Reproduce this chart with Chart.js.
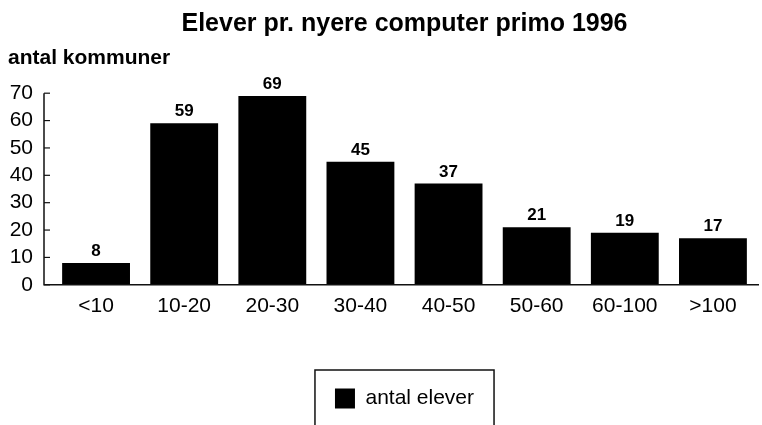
<!DOCTYPE html>
<html>
<head>
<meta charset="utf-8">
<script src="https://cdn.jsdelivr.net/npm/chart.js@4.4.1/dist/chart.umd.min.js"></script>
<style>
  html, body { margin: 0; padding: 0; background: #fff; }
  #wrap { width: 762px; height: 425px; position: relative; }
</style>
</head>
<body>
<div id="wrap"><canvas id="c" width="762" height="425"></canvas></div>
<script>
const categories = ['<10', '10-20', '20-30', '30-40', '40-50', '50-60', '60-100', '>100'];
const antalElever = [8, 59, 69, 45, 37, 21, 19, 17];
const yTicks = [0, 10, 20, 30, 40, 50, 60, 70];
const titleText = 'Elever pr. nyere computer primo 1996';
const yAxisTitle = 'antal kommuner';
const seriesLabel = 'antal elever';

const FONT = "'Liberation Sans', Arial, sans-serif";
const AXIS_GAP = 8;

const axisPlugin = {
  id: 'axisLines',
  afterDatasetsDraw(chart) {
    const ctx = chart.ctx;
    const y = chart.scales.y;
    const ax = chart.chartArea.left - AXIS_GAP;
    ctx.save();
    ctx.strokeStyle = '#111';
    ctx.lineWidth = 1.5;
    ctx.beginPath();
    ctx.moveTo(ax, y.getPixelForValue(70));
    ctx.lineTo(ax, y.getPixelForValue(0));
    ctx.lineTo(chart.chartArea.right + 2, y.getPixelForValue(0));
    ctx.stroke();
    ctx.lineWidth = 1.2;
    yTicks.forEach(v => {
      const py = y.getPixelForValue(v);
      ctx.beginPath();
      ctx.moveTo(ax, py);
      ctx.lineTo(ax + 6, py);
      ctx.stroke();
    });
    ctx.restore();
  }
};

const valueLabels = {
  id: 'valueLabels',
  afterDatasetsDraw(chart) {
    const ctx = chart.ctx;
    const meta = chart.getDatasetMeta(0);
    ctx.save();
    ctx.font = "bold 17px " + FONT;
    ctx.fillStyle = '#000';
    ctx.textAlign = 'center';
    ctx.textBaseline = 'alphabetic';
    meta.data.forEach((bar, i) => {
      ctx.fillText(String(chart.data.datasets[0].data[i]), bar.x, bar.y - 7);
    });
    ctx.restore();
  }
};

const legendFrame = {
  id: 'legendFrame',
  afterDraw(chart) {
    const lg = chart.legend;
    if (!lg || !lg.legendHitBoxes || !lg.legendHitBoxes.length) return;
    const hb = lg.legendHitBoxes[0];
    const ctx = chart.ctx;
    const l = hb.left - 20, r = hb.left + hb.width + 20, t = hb.top - 18;
    ctx.save();
    ctx.strokeStyle = '#111';
    ctx.lineWidth = 1.5;
    ctx.beginPath();
    ctx.moveTo(l, chart.height + 2);
    ctx.lineTo(l, t);
    ctx.lineTo(r, t);
    ctx.lineTo(r, chart.height + 2);
    ctx.stroke();
    ctx.restore();
  }
};

new Chart(document.getElementById('c'), {
  type: 'bar',
  data: {
    labels: categories,
    datasets: [{
      label: seriesLabel,
      data: antalElever,
      backgroundColor: '#000',
      borderWidth: 0,
      barPercentage: 0.77,
      categoryPercentage: 1.0
    }]
  },
  options: {
    responsive: false,
    animation: false,
    devicePixelRatio: 1,
    layout: { padding: { top: 0, left: 8, right: 5, bottom: 6 } },
    plugins: {
      title: {
        display: true,
        text: titleText,
        fullSize: false,
        color: '#000',
        font: { family: FONT, size: 25, weight: 'bold' },
        padding: { top: 9, bottom: 2 }
      },
      subtitle: {
        display: true,
        text: yAxisTitle,
        align: 'start',
        fullSize: true,
        color: '#000',
        font: { family: FONT, size: 21, weight: 'bold' },
        padding: { top: 5, bottom: 22 }
      },
      legend: {
        display: true,
        position: 'bottom',
        fullSize: false,
        labels: {
          color: '#000',
          font: { family: FONT, size: 21 },
          boxWidth: 20,
          boxHeight: 20,
          padding: 60
        }
      },
      tooltip: { enabled: false }
    },
    scales: {
      x: {
        grid: { display: false, drawTicks: false },
        border: { display: false },
        ticks: { color: '#000', font: { family: FONT, size: 21 }, padding: 9, maxRotation: 0, autoSkip: false }
      },
      y: {
        min: 0,
        max: 70,
        afterFit(scale) { scale.width = 44; },
        afterBuildTicks(scale) { scale.ticks = yTicks.map(v => ({ value: v })); },
        grid: { display: false, drawTicks: false },
        border: { display: false },
        ticks: { color: '#000', font: { family: FONT, size: 21 }, padding: 19, autoSkip: false }
      }
    }
  },
  plugins: [axisPlugin, valueLabels, legendFrame]
});
</script>
</body>
</html>
